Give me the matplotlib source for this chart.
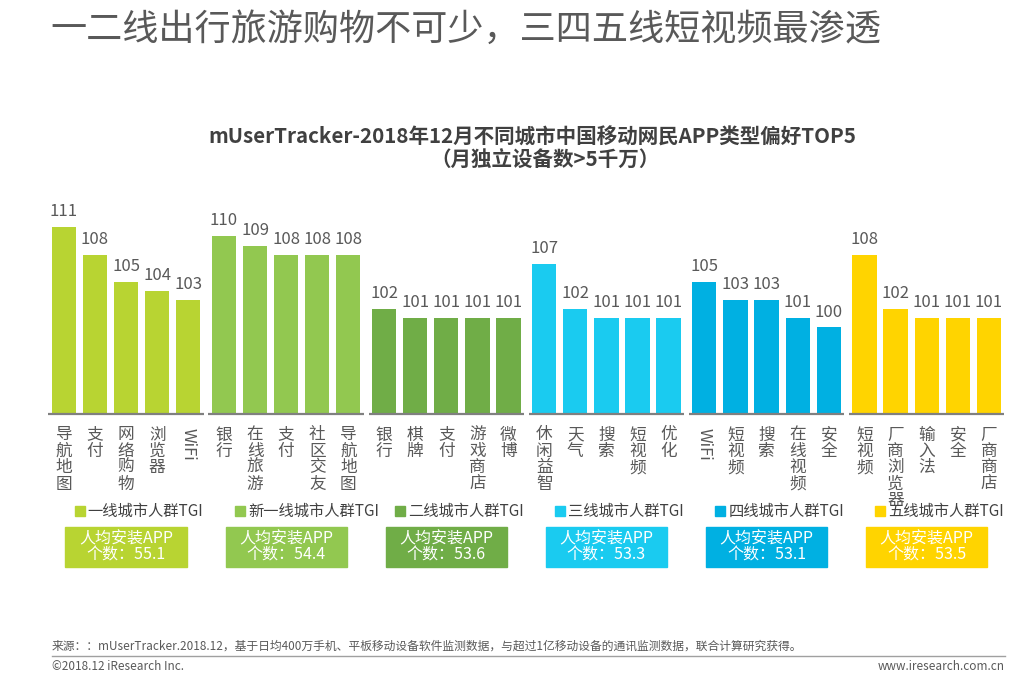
import numpy as np
import matplotlib
matplotlib.use('Agg')
import matplotlib.pyplot as plt
from matplotlib.patches import Rectangle
from matplotlib.transforms import blended_transform_factory
from matplotlib.lines import Line2D

plt.rcParams['font.family'] = ['Noto Sans CJK SC', 'DejaVu Sans']

# данные
cities = ['一线城市人群TGI', '新一线城市人群TGI', '二线城市人群TGI',
          '三线城市人群TGI', '四线城市人群TGI', '五线城市人群TGI']
app_avg = [55.1, 54.4, 53.6, 53.3, 53.1, 53.5]
apps = [
    ['导航地图', '支付', '网络购物', '浏览器', 'WiFi'],
    ['银行', '在线旅游', '支付', '社区交友', '导航地图'],
    ['银行', '棋牌', '支付', '游戏商店', '微博'],
    ['休闲益智', '天气', '搜索', '短视频', '优化'],
    ['WiFi', '短视频', '搜索', '在线视频', '安全'],
    ['短视频', '厂商浏览器', '输入法', '安全', '厂商商店'],
]
tgi = [
    [111, 108, 105, 104, 103],
    [110, 109, 108, 108, 108],
    [102, 101, 101, 101, 101],
    [107, 102, 101, 101, 101],
    [105, 103, 103, 101, 100],
    [108, 102, 101, 101, 101],
]
colors = ['#B8D432', '#92C850', '#70AD47', '#1ACBF0', '#00B0E2', '#FFD400']

W, H = 1018, 676
fig = plt.figure(figsize=(W / 100, H / 100), dpi=100)
ax = fig.add_axes([48 / W, 262 / H, (1010 - 48) / W, (414 - 200) / H])
ymin = 90.5
ax.set_ylim(ymin, 114)
ax.set_xlim(-0.51, 30.43)
ax.axis('off')

grey = '#595959'
step = 5.15
trans = blended_transform_factory(ax.transData, fig.transFigure)

for g in range(len(cities)):
    x = g * step + np.arange(len(tgi[g]))
    ax.bar(x, tgi[g], width=0.78, color=colors[g])
    ax.plot([x[0] - 0.5, x[-1] + 0.5], [ymin, ymin], color='#808080', lw=1.6,
            clip_on=False, solid_capstyle='butt')
    for xi, v, name in zip(x, tgi[g], apps[g]):
        ax.annotate(str(v), (xi, v), xytext=(0, 5), textcoords='offset points',
                    ha='center', va='bottom', fontsize=12, color=grey)
        if name.isascii():
            ax.annotate(name, (xi, ymin), xytext=(0, -10), textcoords='offset points',
                        ha='center', va='top', rotation=-90, fontsize=12, color=grey,
                        annotation_clip=False)
        else:
            ax.annotate('\n'.join(name), (xi, ymin), xytext=(0, -9),
                        textcoords='offset points', ha='center', va='top',
                        fontsize=12, color=grey, linespacing=0.95,
                        annotation_clip=False)

    # легенда
    lx = g * step + 0.35
    ax.add_patch(Rectangle((lx, 1 - 516 / H), 0.32, 10 / H, transform=trans,
                           color=colors[g], clip_on=False))
    ax.text(lx + 0.42, 1 - 511 / H, cities[g], transform=trans, ha='left',
            va='center', fontsize=11, color='#404040')

    # плашка
    cx = g * step + 2
    ax.add_patch(Rectangle((cx - 1.95, 1 - 567 / H), 3.9, 40 / H, transform=trans,
                           color=colors[g], clip_on=False))
    ax.text(cx, 1 - 547 / H, f'人均安装APP\n个数：{app_avg[g]}', transform=trans,
            ha='center', va='center', fontsize=11.5, color='white', linespacing=1.0)

fig.text(50 / W, 1 - 30 / H, '一二线出行旅游购物不可少，三四五线短视频最渗透',
         fontsize=26, va='center', ha='left', color=grey, weight='light')
fig.text(532 / W, 1 - 137 / H,
         'mUserTracker-2018年12月不同城市中国移动网民APP类型偏好TOP5',
         fontsize=14.8, weight='bold', ha='center', va='center', color='#404040')
fig.text(545 / W, 1 - 160 / H, '（月独立设备数>5千万）',
         fontsize=14.8, weight='bold', ha='center', va='center', color='#404040')

fig.text(52 / W, 1 - 646 / H,
         '来源：：mUserTracker.2018.12，基于日均400万手机、平板移动设备软件监测数据，'
         '与超过1亿移动设备的通讯监测数据，联合计算研究获得。',
         fontsize=8.5, ha='left', va='center', color=grey)
fig.add_artist(Line2D([52 / W, 1005 / W], [1 - 656 / H, 1 - 656 / H],
                      color='#a0a0a0', lw=1))
fig.text(52 / W, 1 - 667 / H, '©2018.12 iResearch Inc.', fontsize=8.5,
         ha='left', va='center', color=grey)
fig.text(1005 / W, 1 - 667 / H, 'www.iresearch.com.cn', fontsize=8.5,
         ha='right', va='center', color=grey)

fig.savefig('out.png', dpi=100)
